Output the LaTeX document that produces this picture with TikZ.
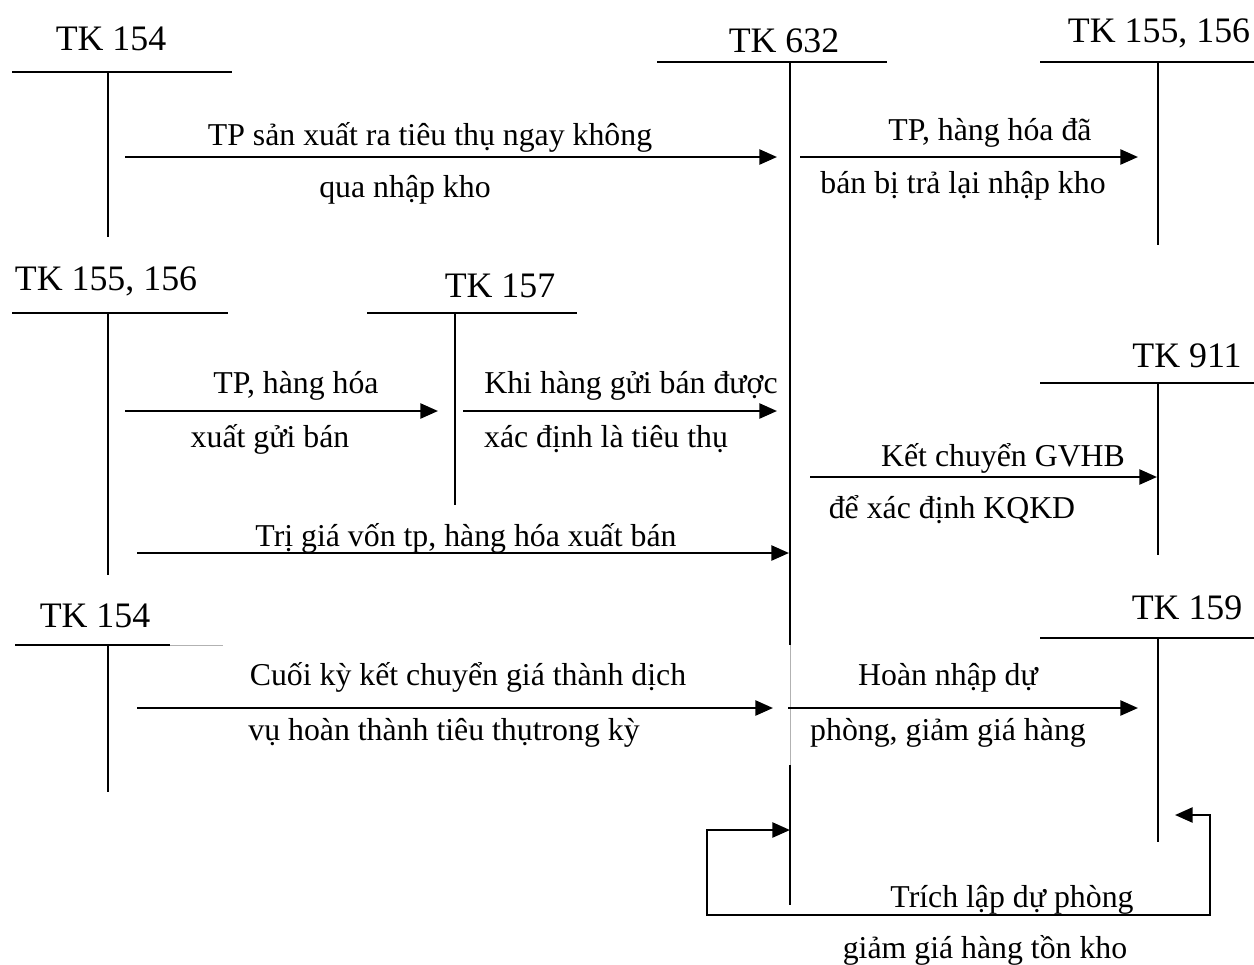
\documentclass[tikz,border=0pt]{standalone}
\usepackage{fontspec}
\setmainfont{Liberation Serif}
\usetikzlibrary{arrows.meta}

\begin{document}
\begin{tikzpicture}[x=0.02cm,y=-0.02cm]
  \tikzstyle{acc}=[inner sep=0pt,anchor=base,font=\fontsize{20.4}{24}\selectfont]
  \tikzstyle{lbl}=[inner sep=0pt,anchor=base,font=\fontsize{18.1}{22}\selectfont]
  \tikzstyle{tl}=[line width=1.3pt]
  \tikzstyle{st}=[line width=1pt]
  \tikzstyle{faint}=[gray!60,line width=0.4pt]
  \tikzstyle{f}=[-{Triangle[length=10pt,width=8.5pt]},line width=1.4pt]
  \useasboundingbox (0,0) rectangle (1254,964);

  % account titles
  \node[acc] (t154a) at (111,50) {TK 154};
  \node[acc] (t632) at (784,52) {TK 632};
  \node[acc] (t155b) at (1159,42) {TK 155, 156};
  \node[acc] (t155a) at (106,290) {TK 155, 156};
  \node[acc] (t157) at (500,297) {TK 157};
  \node[acc] (t911) at (1187,367) {TK 911};
  \node[acc] (t154b) at (95,627) {TK 154};
  \node[acc] (t159) at (1187,619) {TK 159};

  % T-account lines
  \draw[tl] (12,72) -- (232,72);   \draw[st] (108,72) -- (108,237);
  \draw[tl] (657,62) -- (887,62);  \draw[st] (790,62) -- (790,645);
  \draw[faint] (790,645) -- (790,765);
  \draw[st] (790,765) -- (790,905);
  \draw[tl] (1040,62) -- (1254,62);  \draw[st] (1158,62) -- (1158,245);
  \draw[tl] (12,313) -- (228,313);  \draw[st] (108,313) -- (108,575);
  \draw[tl] (367,313) -- (577,313); \draw[st] (455,313) -- (455,505);
  \draw[tl] (1040,383) -- (1254,383); \draw[st] (1158,383) -- (1158,555);
  \draw[tl] (15,645) -- (170,645); \draw[faint] (170,645) -- (223,645);
  \draw[st] (108,645) -- (108,792);
  \draw[tl] (1040,638) -- (1254,638); \draw[st] (1158,638) -- (1158,842);

  % arrow end points
  \coordinate (a1s) at (125,157);  \coordinate (a1e) at (777,157);
  \coordinate (a2s) at (800,157);  \coordinate (a2e) at (1138,157);
  \coordinate (a3s) at (125,411);  \coordinate (a3e) at (438,411);
  \coordinate (a4s) at (463,411);  \coordinate (a4e) at (777,411);
  \coordinate (a5s) at (137,553);  \coordinate (a5e) at (789,553);
  \coordinate (a6s) at (810,477);  \coordinate (a6e) at (1157,477);
  \coordinate (a7s) at (137,708);  \coordinate (a7e) at (773,708);
  \coordinate (a8s) at (788,708);  \coordinate (a8e) at (1138,708);
  \coordinate (lpa) at (790,830);  \coordinate (lpb) at (1175,815);

  \draw[f] (a1s) -- (a1e);
  \draw[f] (a2s) -- (a2e);
  \draw[f] (a3s) -- (a3e);
  \draw[f] (a4s) -- (a4e);
  \draw[f] (a5s) -- (a5e);
  \draw[f] (a6s) -- (a6e);
  \draw[f] (a7s) -- (a7e);
  \draw[f] (a8s) -- (a8e);
  \draw[f,{Triangle[length=10pt,width=8.5pt]}-{Triangle[length=10pt,width=8.5pt]}]
    (lpb) -- (1210,815) -- (1210,915) -- (707,915) -- (707,830) -- (lpa);

  % arrow texts
  \node[lbl] (l1a) at (430,145) {TP sản xuất ra tiêu thụ ngay không};
  \node[lbl] (l1b) at (405,197) {qua nhập kho};
  \node[lbl] (l2a) at (990,140) {TP, hàng hóa đã};
  \node[lbl] (l2b) at (963,193) {bán bị trả lại nhập kho};
  \node[lbl] (l3a) at (296,393) {TP, hàng hóa};
  \node[lbl] (l3b) at (270,447) {xuất gửi bán};
  \node[lbl] (l4a) at (631,393) {Khi hàng gửi bán được};
  \node[lbl] (l4b) at (606,447) {xác định là tiêu thụ};
  \node[lbl] (l5) at (466,546) {Trị giá vốn tp, hàng hóa xuất bán};
  \node[lbl] (l6a) at (1003,466) {Kết chuyển GVHB};
  \node[lbl] (l6b) at (952,518) {để xác định KQKD};
  \node[lbl] (l7a) at (468,685) {Cuối kỳ kết chuyển giá thành dịch};
  \node[lbl] (l7b) at (444,740) {vụ hoàn thành tiêu thụtrong kỳ};
  \node[lbl] (l8a) at (948,685) {Hoàn nhập dự};
  \node[lbl] (l8b) at (948,740) {phòng, giảm giá hàng};
  \node[lbl] (l9a) at (1012,907) {Trích lập dự phòng};
  \node[lbl] (l9b) at (985,958) {giảm giá hàng tồn kho};
\end{tikzpicture}
\end{document}
